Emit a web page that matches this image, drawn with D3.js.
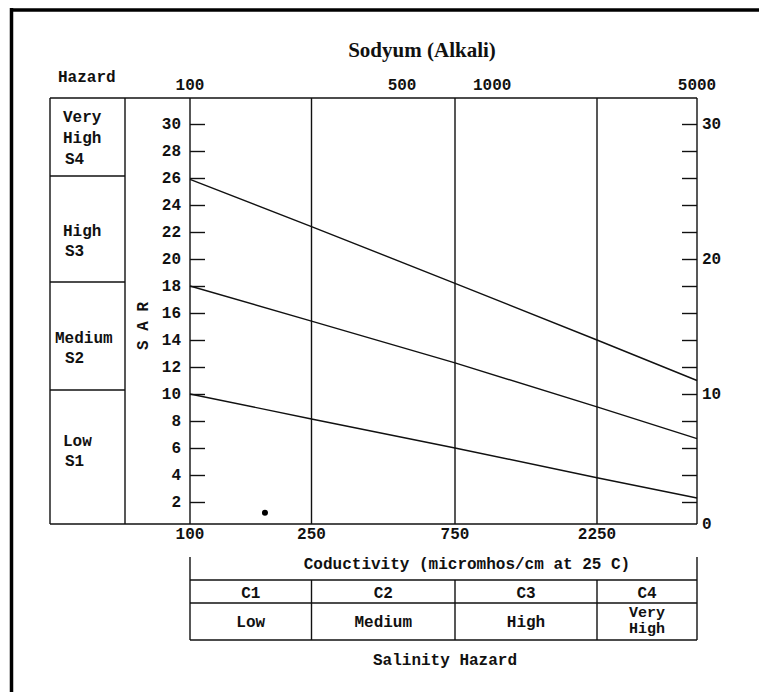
<!DOCTYPE html>
<html>
<head>
<meta charset="utf-8">
<script src="https://cdn.jsdelivr.net/npm/d3@7"></script>
<style>
  html, body { margin: 0; padding: 0; background: #fff; }
  svg { display: block; }
  .mono { font-family: "Liberation Mono", "DejaVu Sans Mono", monospace; font-weight: bold; font-size: 16px; fill: #111; }
</style>
</head>
<body>
<svg id="chart" width="759" height="692"></svg>
<script>
// ---------------- DATA ----------------
const title = "Sodyum (Alkali)";
const conductivityPoints = [100, 250, 750, 2250, 5000];       // x positions of line vertices
const lineS1S2 = [10, 8.15, 6.0, 3.8, 2.3];                    // Low / Medium boundary
const lineS2S3 = [18, 15.4, 12.3, 9.05, 6.7];                  // Medium / High boundary
const lineS3S4 = [25.9, 22.4, 18.2, 14.0, 11.0];               // High / Very High boundary
const samplePoint = [{ ec: 176, sar: 1.2 }];
const topTicks = [100, 500, 1000, 5000];
const bottomTicks = [100, 250, 750, 2250];
const gridLines = [250, 750, 2250];
const leftSarTicks = [2, 4, 6, 8, 10, 12, 14, 16, 18, 20, 22, 24, 26, 28, 30];
const rightSarTicks = [2, 4, 6, 8, 10, 12, 14, 16, 18, 20, 22, 24, 26, 28, 30];
const rightSarLabels = [0, 10, 20, 30];
const sodiumHazard = [
  { lines: ["Very", "High", "S4"] },
  { lines: ["High", "S3"] },
  { lines: ["Medium", "S2"] },
  { lines: ["Low", "S1"] }
];
const salinityClasses = ["C1", "C2", "C3", "C4"];
const salinityNames = [["Low"], ["Medium"], ["High"], ["Very", "High"]];
const yAxisLabel = "S A R";
const xAxisLabel = "Coductivity (micromhos/cm at 25 C)";
const hazardTitle = "Hazard";
const salinityTitle = "Salinity Hazard";

// ---------------- LAYOUT ----------------
const svg = d3.select("#chart");
const plotTop = 98, plotBottom = 524;
const tableLeft = 50, tableDivider = 125;
const hazardBounds = [98, 176, 282, 390, 524];

const x = d3.scaleLog()
  .domain([100, 250, 750, 2250, 5000])
  .range([190, 311.5, 455, 597, 697]);
const y = d3.scaleLinear().domain([0, 30]).range([529, 124]);
const plotLeft = x(100), plotRight = x(5000);

const ink = "#111";

// outer frame (top & left visible)
svg.append("line").attr("x1", 10).attr("x2", 759).attr("y1", 10).attr("y2", 10)
  .attr("stroke", "#000").attr("stroke-width", 3.5);
svg.append("line").attr("x1", 11.5).attr("x2", 11.5).attr("y1", 8).attr("y2", 692)
  .attr("stroke", "#000").attr("stroke-width", 3.5);

// title
svg.append("text").attr("x", 422).attr("y", 57).attr("text-anchor", "middle")
  .style("font-family", "'Liberation Serif', 'Times New Roman', serif")
  .style("font-weight", "bold").style("font-size", "21px").attr("fill", "#111")
  .text(title);

// Hazard title
svg.append("text").attr("class", "mono").attr("x", 58).attr("y", 82).text(hazardTitle);

// top/bottom long lines
const g = svg.append("g").attr("stroke", ink).attr("stroke-width", 1.4).attr("fill", "none");
g.append("line").attr("x1", tableLeft).attr("x2", plotRight).attr("y1", plotTop).attr("y2", plotTop);
g.append("line").attr("x1", tableLeft).attr("x2", plotRight).attr("y1", plotBottom).attr("y2", plotBottom);
[tableLeft, tableDivider, plotLeft, plotRight].forEach(xx =>
  g.append("line").attr("x1", xx).attr("x2", xx).attr("y1", plotTop).attr("y2", plotBottom));
hazardBounds.slice(1, -1).forEach(yy =>
  g.append("line").attr("x1", tableLeft).attr("x2", tableDivider).attr("y1", yy).attr("y2", yy));

// grid verticals
g.selectAll(".grid").data(gridLines).join("line")
  .attr("x1", d => x(d)).attr("x2", d => x(d)).attr("y1", plotTop).attr("y2", plotBottom);

// hazard labels
const hazardLayout = [
  { first: 122, step: 21 },
  { first: 236, step: 20 },
  { first: 343, step: 20 },
  { first: 446, step: 20 }
];
sodiumHazard.forEach((h, i) => {
  const t = svg.append("text").attr("class", "mono");
  h.lines.forEach((ln, j) => {
    t.append("tspan")
      .attr("x", ln === "Medium" ? 55 : (ln.startsWith("S") ? 65 : 63))
      .attr("y", hazardLayout[i].first + j * hazardLayout[i].step)
      .text(ln);
  });
});

// left SAR ticks
const leftAxis = d3.axisRight(y).tickValues(leftSarTicks).tickSize(15).tickFormat("");
const la = svg.append("g").attr("transform", `translate(${plotLeft},0)`).call(leftAxis);
la.select(".domain").remove();
la.selectAll("line").attr("stroke", ink).attr("stroke-width", 1.4);
svg.selectAll(".lt").data(leftSarTicks).join("text").attr("class", "mono")
  .attr("x", 181).attr("y", d => y(d) + 5).attr("text-anchor", "end").text(d => d);

// right SAR ticks
const rightAxis = d3.axisLeft(y).tickValues(rightSarTicks).tickSize(15).tickFormat("");
const ra = svg.append("g").attr("transform", `translate(${plotRight},0)`).call(rightAxis);
ra.select(".domain").remove();
ra.selectAll("line").attr("stroke", ink).attr("stroke-width", 1.4);
svg.selectAll(".rt").data(rightSarLabels).join("text").attr("class", "mono")
  .attr("x", 702).attr("y", d => Math.min(y(d), plotBottom) + 5).text(d => d);

// SAR label
svg.append("text").attr("class", "mono")
  .attr("transform", "translate(148,326) rotate(-90)")
  .attr("text-anchor", "middle").text(yAxisLabel);

// top tick labels
svg.selectAll(".tt").data(topTicks).join("text").attr("class", "mono")
  .attr("x", d => x(d)).attr("y", 90).attr("text-anchor", "middle").text(d => d);
// bottom tick labels
svg.selectAll(".bt").data(bottomTicks).join("text").attr("class", "mono")
  .attr("x", d => x(d)).attr("y", 539).attr("text-anchor", "middle").text(d => d);

// boundary lines
const line = d3.line().x((d, i) => x(conductivityPoints[i])).y(d => y(d));
[lineS1S2, lineS2S3, lineS3S4].forEach(s =>
  svg.append("path").datum(s).attr("d", line)
    .attr("fill", "none").attr("stroke", ink).attr("stroke-width", 1.4));

// sample point
svg.selectAll(".pt").data(samplePoint).join("circle")
  .attr("cx", d => x(d.ec)).attr("cy", d => y(d.sar)).attr("r", 3).attr("fill", "#000");

// salinity table
const tb = svg.append("g").attr("stroke", ink).attr("stroke-width", 1.4);
const tTop = 557, tRow1 = 580, tRow2 = 603, tBottom = 640;
[plotLeft, plotRight].forEach(xx =>
  tb.append("line").attr("x1", xx).attr("x2", xx).attr("y1", tTop).attr("y2", tBottom));
[tRow1, tRow2, tBottom].forEach(yy =>
  tb.append("line").attr("x1", plotLeft).attr("x2", plotRight).attr("y1", yy).attr("y2", yy));
tb.selectAll(".div").data(gridLines).join("line")
  .attr("x1", d => x(d)).attr("x2", d => x(d)).attr("y1", tRow1).attr("y2", tBottom);

svg.append("text").attr("class", "mono").attr("x", 467).attr("y", 569)
  .attr("text-anchor", "middle").text(xAxisLabel);

const colEdges = [100, 250, 750, 2250, 5000];
salinityClasses.forEach((c, i) => {
  const cx = (x(colEdges[i]) + x(colEdges[i + 1])) / 2;
  svg.append("text").attr("class", "mono").attr("x", cx).attr("y", 598)
    .attr("text-anchor", "middle").text(c);
  const names = salinityNames[i];
  const t = svg.append("text").attr("class", "mono").attr("text-anchor", "middle");
  if (names.length === 1) {
    t.append("tspan").attr("x", cx).attr("y", 627).text(names[0]);
  } else {
    t.style("font-size", "15px");
    names.forEach((n, j) => t.append("tspan").attr("x", cx).attr("y", 617 + j * 16).text(n));
  }
});

svg.append("text").attr("class", "mono").attr("x", 445).attr("y", 665)
  .attr("text-anchor", "middle").text(salinityTitle);
</script>
</body>
</html>
